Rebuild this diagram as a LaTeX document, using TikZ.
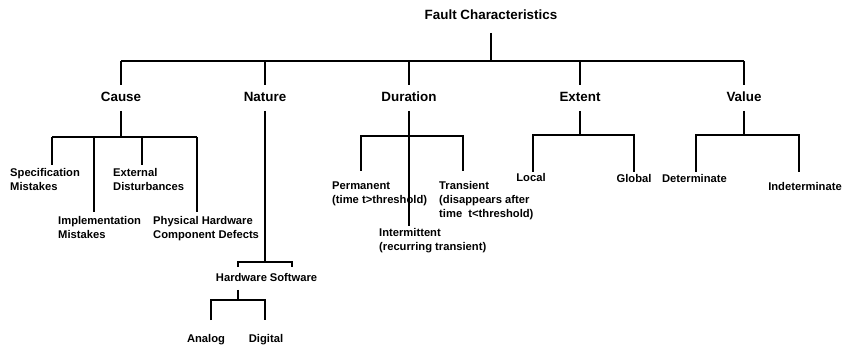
\documentclass[tikz,border=0pt]{standalone}
\usepackage{fontspec}
\setmainfont{Liberation Sans}
\begin{document}
\begin{tikzpicture}[x=1pt,y=-1pt,
  ln/.style={line width=1.3pt},
  big/.style={font=\fontsize{13.4}{16}\selectfont\bfseries, inner sep=0pt, anchor=base},
  sm/.style={font=\fontsize{11.2}{14}\selectfont\bfseries, inner sep=0pt, anchor=base},
  ml/.style={font=\fontsize{11.2}{14}\selectfont\bfseries, inner sep=0pt, align=left, anchor=north west}]
\useasboundingbox (0,0) rectangle (843,347);
% texts
\node[big] (title) at (491,19.8) {Fault Characteristics};
\node[big] (cause) at (121,101.8) {Cause};
\node[big] (nature) at (265,101.8) {Nature};
\node[big] (duration) at (409,101.8) {Duration};
\node[big] (extent) at (580,101.8) {Extent};
\node[big] (value) at (744,101.8) {Value};
\node[ml] (spec) at (10,168.5) {Specification\\Mistakes};
\node[ml] (ext) at (113,168.5) {External\\Disturbances};
\node[ml] (impl) at (58,216.5) {Implementation\\Mistakes};
\node[ml] (phys) at (153,216.5) {Physical Hardware\\Component Defects};
\node[ml] (perm) at (332,181.5) {Permanent\\(time t>threshold)};
\node[ml] (trans) at (439,181.5) {Transient\\(disappears after\\time\ \ t<threshold)};
\node[ml] (inter) at (379,228.5) {Intermittent\\(recurring transient)};
\node[sm] (local) at (531,182) {Local};
\node[sm] (global) at (634,183) {Global};
\node[sm] (det) at (694.5,183) {Determinate};
\node[sm] (indet) at (805,191) {Indeterminate};
\node[sm] (hw) at (241.5,281) {Hardware};
\node[sm] (sw) at (293.5,281) {Software};
\node[sm] (analog) at (206,342) {Analog};
\node[sm] (digital) at (266,342) {Digital};
% coordinates
\coordinate (t0) at (491,33);
\coordinate (t1) at (491,61);
\coordinate (barL) at (121,61);
\coordinate (barR) at (744,61);
% top level
\draw[ln] (t0) -- (t1);
\draw[ln] (barL) -- (barR);
\foreach \n/\x in {cause/121,nature/265,duration/409,extent/580,value/744}{
  \coordinate (\n-a) at (\x,61);
  \coordinate (\n-b) at (\x,85);
  \coordinate (\n-c) at (\x,111);
  \draw[ln] (\n-a) -- (\n-b);
}
% Cause
\coordinate (cb) at (121,137);
\draw[ln] (cause-c) -- (cb);
\coordinate (cbL) at (52,137);
\coordinate (cbR) at (197,137);
\draw[ln] (cbL) -- (cbR);
\coordinate (c1) at (52,165);
\coordinate (c2a) at (94,137);
\coordinate (c2) at (94,212);
\coordinate (c3a) at (142,137);
\coordinate (c3) at (142,165);
\coordinate (c4) at (197,212);
\draw[ln] (cbL) -- (c1);
\draw[ln] (c2a) -- (c2);
\draw[ln] (c3a) -- (c3);
\draw[ln] (cbR) -- (c4);
% Nature
\coordinate (nb) at (265,262);
\draw[ln] (nature-c) -- (nb);
\coordinate (nbL) at (238,262);
\coordinate (nbR) at (292,262);
\coordinate (nbL2) at (238,267);
\coordinate (nbR2) at (292,267);
\draw[ln] (nbL2) -- (nbL) -- (nbR) -- (nbR2);
\coordinate (h0) at (238,290);
\coordinate (h1) at (238,300);
\coordinate (hL) at (211,300);
\coordinate (hR) at (265,300);
\coordinate (hL2) at (211,320);
\coordinate (hR2) at (265,320);
\draw[ln] (h0) -- (h1);
\draw[ln] (hL2) -- (hL) -- (hR) -- (hR2);
% Duration
\coordinate (db) at (409,226);
\draw[ln] (duration-c) -- (db);
\coordinate (dL) at (361,136);
\coordinate (dR) at (463,136);
\coordinate (dL2) at (361,171);
\coordinate (dR2) at (463,171);
\draw[ln] (dL2) -- (dL) -- (dR) -- (dR2);
% Extent
\coordinate (eb) at (580,135);
\draw[ln] (extent-c) -- (eb);
\coordinate (eL) at (533,135);
\coordinate (eR) at (634,135);
\coordinate (eL2) at (533,172);
\coordinate (eR2) at (634,172);
\draw[ln] (eL2) -- (eL) -- (eR) -- (eR2);
% Value
\coordinate (vb) at (744,135);
\draw[ln] (value-c) -- (vb);
\coordinate (vL) at (696,135);
\coordinate (vR) at (799,135);
\coordinate (vL2) at (696,172);
\coordinate (vR2) at (799,172);
\draw[ln] (vL2) -- (vL) -- (vR) -- (vR2);
\end{tikzpicture}
\end{document}
